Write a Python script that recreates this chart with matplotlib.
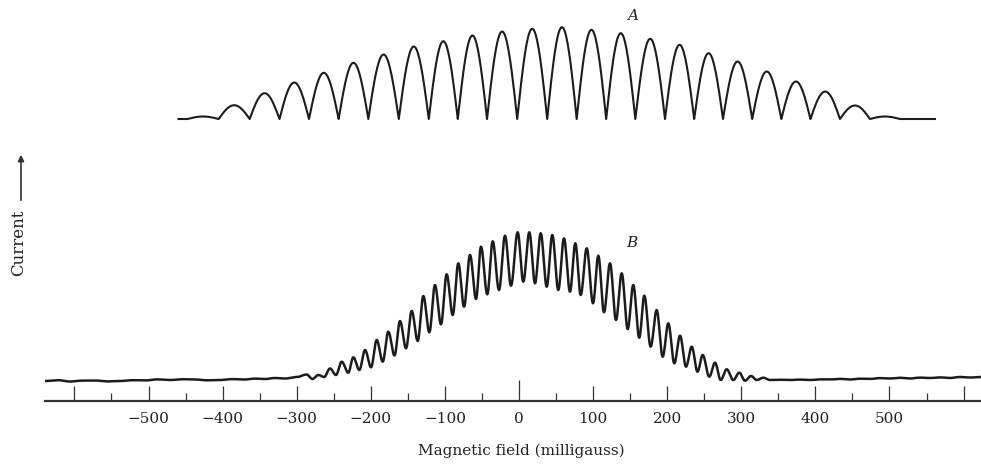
import numpy as np
import matplotlib
matplotlib.use("Agg")
import matplotlib.pyplot as plt
from matplotlib.patches import FancyArrowPatch
from matplotlib.ticker import FixedLocator, FixedFormatter, MultipleLocator

# ---------------- data ----------------
# Curve A: arch peak positions (milligauss) and peak currents (arb. units)
a_peak_field = [-426.4, -384.2, -342.8, -303.6, -263.2, -223.6, -183.1, -141.3,
                -102.2, -63.0, -23.3, 18.5, 57.6, 98.1, 137.2, 176.8, 217.3,
                255.5, 295.1, 334.3, 373.8, 412.9, 453.4, 493.9]
a_peak_current = [2.5, 13.8, 25.8, 36.5, 46.2, 56.2, 64.5, 72.5, 77.8, 83.5,
                  87.5, 90.2, 91.8, 89.2, 85.8, 80.2, 74.2, 65.8, 57.5, 47.5,
                  37.5, 27.5, 13.5, 2.5]
a_field_range = [-459.5, 561.4]

# Curve B: successive maxima / minima (field, current)
b_extrema_field = [-286.6, -278.7, -270.8, -262.9, -255.1, -247.0, -239.3, -230.4,
                   -223.6, -215.5, -207.8, -199.7, -192.0, -183.9, -176.4, -168.0,
                   -160.6, -152.5, -144.8, -136.7, -129.1, -121.0, -113.4, -105.3,
                   -97.6, -89.5, -81.9, -74.2, -66.1, -58.0, -51.3, -42.8,
                   -35.5, -27.0, -18.9, -10.8, -1.8, 5.8, 13.9, 21.6,
                   29.3, 37.4, 44.9, 53.0, 60.7, 68.8, 76.0, 83.3,
                   91.4, 99.9, 107.0, 114.7, 122.8, 130.9, 138.6, 146.7,
                   154.2, 162.3, 169.1, 177.7, 185.8, 193.9, 201.5, 209.6,
                   217.3, 225.4, 233.1, 240.9, 247.9, 256.8, 264.5, 272.2,
                   280.3, 289.2, 297.3, 305.0, 313.1, 320.8, 329.7, 338.7]
b_extrema_current = [5.5, 1, 5, 3, 11.5, 5, 18.3, 7.3,
                     22.7, 10, 30, 12.7, 40, 18.3, 48.3, 24.5,
                     59, 31.7, 69, 39, 84, 47.7, 95, 55.7,
                     105.7, 65, 116.7, 73.3, 125, 81, 133.3, 85.7,
                     138.7, 90, 144.3, 94.3, 147.7, 98.3, 147.7, 96.7,
                     146.7, 93.3, 145, 90, 141.7, 88.3, 136.7, 85,
                     131.7, 76.7, 124.3, 67.7, 116.7, 60, 106.7, 51,
                     95, 42.3, 84.3, 33.3, 70, 23.3, 56.7, 16.7,
                     44.3, 13.3, 33.3, 8.3, 25, 3.3, 17.3, 0,
                     10.7, 0, 7.3, -0.7, 4, 0, 2.3, 0]
b_left_field = [-639.7, -622.0, -605.9, -589.0, -572.2, -555.0, -538.5, -521.5,
                -504.8, -488.0, -471.0, -454.0, -437.3, -420.5, -403.5, -386.5,
                -369.8, -356.0, -342.8, -329.0, -315.8, -299.6]
b_left_current = [-1, -0.2, -1.5, -0.6, -0.5, -1.4, -1, -0.2,
                  -0.5, 0.6, 0, 0.8, 0.5, -0.3, 0, 0.9,
                  0.5, 1.4, 1, 2.0, 1.5, 3]
b_right_field = [350.0, 365.7, 379.0, 392.7, 406.0, 419.7, 433.0, 446.7,
                 460.0, 473.7, 487.0, 500.6, 514.0, 527.6, 541.0, 554.6,
                 568.0, 581.6, 595.0, 608.6, 623.4]
b_right_current = [0.3, 0, 0.4, 0, 0.6, 0.5, 1.1, 0.5, 1.3, 1, 1.9, 1.5,
                   2.2, 1.5, 2.4, 2, 2.6, 2, 3.0, 2.5, 3]

tick_values = [-600, -500, -400, -300, -200, -100, 0, 100, 200, 300, 400, 500, 600]
tick_labels = ["", "\u2212500", "\u2212400", "\u2212300", "\u2212200", "\u2212100",
               "0", "100", "200", "300", "400", "500", ""]

# ---------------- helpers ----------------
def arches(peaks, heights, start, end, n=40):
    pk = np.asarray(peaks, float)
    h = np.asarray(heights, float)
    mids = (pk[:-1] + pk[1:]) / 2
    cusps = np.concatenate([[pk[0] - (pk[1] - pk[0]) / 2], mids,
                            [pk[-1] + (pk[-1] - pk[-2]) / 2]])
    xs, ys = [start], [0.0]
    t = np.linspace(0, 1, n)
    for i in range(len(pk)):
        x = cusps[i] + (cusps[i + 1] - cusps[i]) * t
        y = h[i] * np.sin(np.pi * t)
        xs.extend(x)
        ys.extend(y)
    xs.append(end)
    ys.append(0.0)
    return np.array(xs), np.array(ys)


def cos_interp(xk, yk, n=14):
    X, Y = [], []
    t = np.linspace(0, 1, n, endpoint=False)
    s = (1 - np.cos(np.pi * t)) / 2
    for i in range(len(xk) - 1):
        X.extend(xk[i] + (xk[i + 1] - xk[i]) * t)
        Y.extend(yk[i] + (yk[i + 1] - yk[i]) * s)
    X.append(xk[-1])
    Y.append(yk[-1])
    return np.array(X), np.array(Y)

# ---------------- figure ----------------
W, H = 981, 468
fig = plt.figure(figsize=(W / 100, H / 100), dpi=100)
axis_px = 400.7
ax = fig.add_axes([45 / W, (H - axis_px) / H, 1 - 45 / W, axis_px / H])
ax.set_xlim(-639.7, 623.5)
ax.set_ylim(0, axis_px)

ink = "#1c1c1c"
A_base = axis_px - 119.0
B_base = axis_px - 380.0

xa, ya = arches(a_peak_field, a_peak_current, a_field_range[0], a_field_range[1])
ax.plot(xa, ya + A_base, color=ink, lw=1.5, solid_joinstyle="round")

bx = list(b_left_field) + list(b_extrema_field) + list(b_right_field)
by = list(b_left_current) + list(b_extrema_current) + list(b_right_current)
xb, yb = cos_interp(bx, by)
ax.plot(xb, yb + B_base, color=ink, lw=1.8, solid_joinstyle="round")

for s in ["top", "left", "right"]:
    ax.spines[s].set_visible(False)
ax.spines["bottom"].set_linewidth(1.6)
ax.spines["bottom"].set_color("#333333")
ax.set_yticks([])
ax.patch.set_alpha(0)

ax.xaxis.set_major_locator(FixedLocator(tick_values))
ax.xaxis.set_major_formatter(FixedFormatter(tick_labels))
ax.xaxis.set_minor_locator(MultipleLocator(50))
ax.tick_params(axis="x", which="major", direction="in", length=10.6, width=0.9,
               color="#333333", pad=8, labelsize=11)
ax.tick_params(axis="x", which="minor", direction="in", length=5.5, width=0.9,
               color="#333333")
for lab in ax.get_xticklabels():
    lab.set_fontfamily("DejaVu Serif")
    lab.set_color("#222222")
ax.xaxis.get_major_ticks()[tick_values.index(0)].tick1line.set_markersize(15)

fig.text(521 / W, (H - 451) / H, "Magnetic field (milligauss)", ha="center",
         va="center", fontsize=11, family="DejaVu Serif", color="#222222")
fig.text(19 / W, (H - 243) / H, "Current", rotation=90, ha="center", va="center",
         fontsize=12, family="DejaVu Serif", color="#222222")
fig.add_artist(FancyArrowPatch((21 / W, (H - 203) / H), (21 / W, (H - 152) / H),
                               transform=fig.transFigure, arrowstyle="-|>",
                               mutation_scale=9, lw=1.2, color="#333333"))
fig.text(633 / W, (H - 16) / H, "A", ha="center", va="center", fontsize=11,
         family="DejaVu Serif", style="italic", color="#222222")
fig.text(632 / W, (H - 243) / H, "B", ha="center", va="center", fontsize=11,
         family="DejaVu Serif", style="italic", color="#222222")

fig.savefig("out.png", dpi=100)
